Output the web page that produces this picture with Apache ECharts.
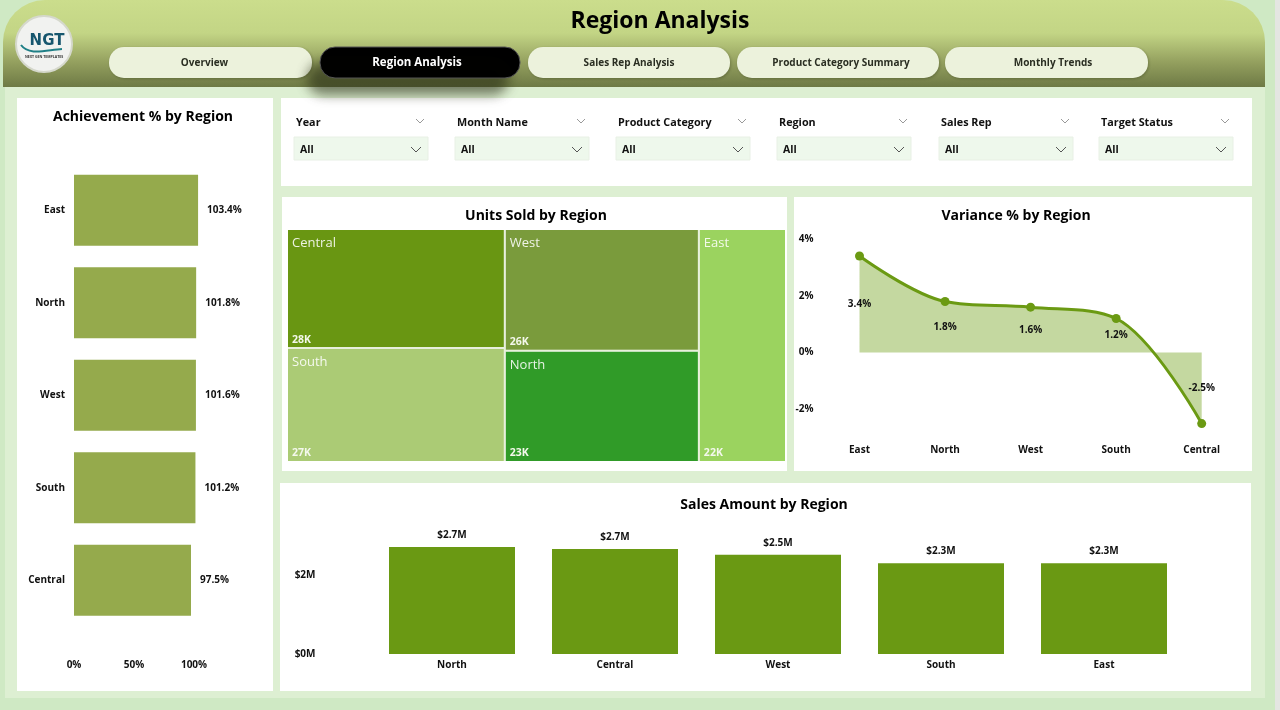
<!DOCTYPE html>
<html>
<head>
<meta charset="utf-8">
<title>Region Analysis</title>
<script src="https://cdn.jsdelivr.net/npm/echarts@6/dist/echarts.min.js"></script>
<style>
html, body { margin: 0; padding: 0; background: #fff; overflow: hidden; }
#main { width: 1280px; height: 710px; }
</style>
</head>
<body>
<div id="main"></div>
<script>
// data
var achieveRegions = ['East', 'North', 'West', 'South', 'Central'];
var achieveValues = [103.4, 101.8, 101.6, 101.2, 97.5];
var achieveTicks = [0, 50, 100];

var unitRegions = ['Central', 'South', 'West', 'North', 'East'];
var unitValues = [28100, 26900, 25600, 23400, 22000];
var unitColors = ['#699612', '#ABCB75', '#7A9B3C', '#309B28', '#9BD35F'];

var varianceRegions = ['East', 'North', 'West', 'South', 'Central'];
var varianceValues = [3.4, 1.8, 1.6, 1.2, -2.5];
var varianceTicks = [-2, 0, 2, 4];

var salesRegions = ['North', 'Central', 'West', 'South', 'East'];
var salesValues = [2.71, 2.66, 2.51, 2.3, 2.3];
var salesTicks = [0, 2];

var navItems = ['Overview', 'Region Analysis', 'Sales Rep Analysis', 'Product Category Summary', 'Monthly Trends'];
var slicerNames = ['Year', 'Month Name', 'Product Category', 'Region', 'Sales Rep', 'Target Status'];

var FONT = '"Open Sans", "Noto Sans", sans-serif';
var TEXT = '#111';

// layout of the report page
var navX = [[109, 312], [320, 520], [528, 730], [737, 939], [945, 1148]];
var navTextX = [204.5, 417, 629, 841, 1053];
var slicerX = [294, 455, 616, 777, 939, 1099];
var varianceStep = 28.4; // px per 1% on the variance axis

function panel(x, y, w, h) {
    return { type: 'rect', shape: { x: x, y: y, width: w, height: h }, style: { fill: '#fff' } };
}
function label(x, y, text, font, fill, align) {
    return {
        type: 'text', x: x, y: y, z: 3,
        style: { text: text, font: font, fill: fill || TEXT, align: align || 'left', verticalAlign: 'middle' }
    };
}
function chevron(cx, cy, size, color) {
    return {
        type: 'polyline', z: 3,
        shape: { points: [[cx - size, cy - size / 2], [cx, cy + size / 2], [cx + size, cy - size / 2]] },
        style: { stroke: color, lineWidth: 1, fill: null }
    };
}

var graphics = [
    // page background
    { type: 'rect', shape: { x: 0, y: 0, width: 1280, height: 710 }, style: { fill: '#CFE9C4' } },
    { type: 'rect', shape: { x: 5, y: 87, width: 1260, height: 611 }, style: { fill: '#DDEFD2' } },
    { type: 'rect', shape: { x: 1275, y: 0, width: 5, height: 710 }, style: { fill: '#E4E6E2' } },
    // header
    {
        type: 'rect', shape: { x: 3, y: 0, width: 1262, height: 87, r: [42, 42, 0, 0] },
        style: {
            fill: new echarts.graphic.LinearGradient(0, 0, 0, 1, [
                { offset: 0, color: '#CBDD8C' },
                { offset: 0.38, color: '#C3D585' },
                { offset: 0.72, color: '#939F5E' },
                { offset: 1, color: '#6E7A45' }
            ])
        }
    },
    label(660, 21, 'Region Analysis', 'bold 23px ' + FONT, '#000', 'center'),
    // logo
    { type: 'circle', z: 2, shape: { cx: 44, cy: 44, r: 28 }, style: { fill: '#F1F2F0', stroke: '#D5D8CC', lineWidth: 2 } },
    label(47, 41, 'NGT', 'bold 15px "DejaVu Sans", sans-serif', '#16566E', 'center'),
    {
        type: 'bezierCurve', z: 3,
        shape: { x1: 21, y1: 45, cpx1: 29, cpy1: 56, cpx2: 46, cpy2: 50, x2: 62, y2: 49 },
        style: { stroke: '#1F7F86', lineWidth: 2, fill: null }
    },
    label(44, 57, 'NEXT GEN TEMPLATES', 'bold 3.5px ' + FONT, '#333', 'center'),
    // panels
    panel(17, 98, 256, 593),
    panel(281, 98, 971, 88),
    panel(282, 197, 505, 274),
    panel(794, 197, 458, 274),
    panel(280, 483, 971, 208),
    // chart titles
    label(143, 117, 'Achievement % by Region', 'bold 14px ' + FONT, '#000', 'center'),
    label(536, 216, 'Units Sold by Region', 'bold 14px ' + FONT, '#000', 'center'),
    label(1016, 216, 'Variance % by Region', 'bold 14px ' + FONT, '#000', 'center'),
    label(764, 505, 'Sales Amount by Region', 'bold 14px ' + FONT, '#000', 'center')
];

// nav buttons
navItems.forEach(function (name, i) {
    var active = i === 1;
    graphics.push({
        type: 'rect', z: 2,
        shape: { x: navX[i][0], y: 47, width: navX[i][1] - navX[i][0], height: 31, r: 15 },
        style: active
            ? { fill: '#000', stroke: '#555', lineWidth: 1, shadowColor: 'rgba(40,45,20,0.6)', shadowBlur: 12, shadowOffsetX: -12, shadowOffsetY: 16 }
            : { fill: '#ECF2DC', shadowColor: 'rgba(40,45,20,0.3)', shadowBlur: 3, shadowOffsetX: 1, shadowOffsetY: 1 }
    });
    graphics.push(label(navTextX[i], 63, name, 'bold ' + (active ? 11.5 : 10) + 'px ' + FONT, active ? '#fff' : '#2A2E22', 'center'));
});

// slicers
slicerNames.forEach(function (name, i) {
    var x = slicerX[i];
    graphics.push(label(x + 2, 123, name, 'bold 10.8px ' + FONT, '#111'));
    graphics.push(chevron(x + 126, 121, 4, '#999'));
    graphics.push({
        type: 'rect', z: 2,
        shape: { x: x, y: 137, width: 134, height: 23 },
        style: { fill: '#EEF8EC', stroke: '#E8F0E5', lineWidth: 1 }
    });
    graphics.push(label(x + 6, 150, 'All', 'bold 10.5px ' + FONT, '#111'));
    graphics.push(chevron(x + 122, 149.5, 5, '#555'));
});

var treeData = unitRegions.map(function (name, i) {
    return { name: name, value: unitValues[i], itemStyle: { color: unitColors[i] } };
});
var treeBox = { left: 288, top: 230, width: 497, height: 231 };
function treeSeries(extra) {
    return Object.assign({
        type: 'treemap',
        left: treeBox.left, top: treeBox.top, width: treeBox.width, height: treeBox.height,
        roam: false, nodeClick: false,
        breadcrumb: { show: false },
        squareRatio: 1.2,
        silent: true
    }, extra);
}

var axisFont = { color: TEXT, fontSize: 10, fontWeight: 'bold' };

var option = {
    animation: false,
    textStyle: { fontFamily: FONT },
    graphic: { elements: graphics },
    grid: [
        { left: 74, top: 164, width: 132, height: 462.5 },
        { left: 859.5, top: 239, width: 342.2, height: 198.8 },
        { left: 370.5, top: 535.5, width: 815, height: 118.5 }
    ],
    xAxis: [
        {
            gridIndex: 0, type: 'value', min: 0, max: 110, interval: 50,
            axisLine: { show: false }, axisTick: { show: false }, splitLine: { show: false },
            axisLabel: Object.assign({
                margin: 34,
                formatter: function (v) { return achieveTicks.indexOf(v) >= 0 ? v + '%' : ''; }
            }, axisFont)
        },
        {
            gridIndex: 1, type: 'category', data: varianceRegions, boundaryGap: false,
            axisLine: { show: false, onZero: false }, axisTick: { show: false },
            axisLabel: Object.assign({ margin: 7, hideOverlap: false, interval: 0 }, axisFont)
        },
        {
            gridIndex: 2, type: 'category', data: salesRegions,
            axisLine: { show: false }, axisTick: { show: false },
            axisLabel: Object.assign({ margin: 6 }, axisFont)
        }
    ],
    yAxis: [
        {
            gridIndex: 0, type: 'category', data: achieveRegions, inverse: true,
            axisLine: { show: false }, axisTick: { show: false },
            axisLabel: Object.assign({ margin: 9 }, axisFont)
        },
        {
            gridIndex: 1, type: 'value', min: -3, max: 4,
            axisLine: { show: false }, axisTick: { show: false }, splitLine: { show: false },
            axisLabel: Object.assign({
                customValues: varianceTicks, margin: 46,
                formatter: '{value}%'
            }, axisFont)
        },
        {
            gridIndex: 2, type: 'value', min: 0, max: 3,
            axisLine: { show: false }, axisTick: { show: false }, splitLine: { show: false },
            axisLabel: Object.assign({
                customValues: salesTicks, margin: 55,
                formatter: '${value}M'
            }, axisFont)
        }
    ],
    series: [
        {
            type: 'bar', xAxisIndex: 0, yAxisIndex: 0, data: achieveValues, barWidth: 71,
            itemStyle: { color: '#95AA4C' },
            label: Object.assign({
                show: true, position: 'right', distance: 9,
                formatter: function (p) { return p.value.toFixed(1) + '%'; }
            }, axisFont)
        },
        treeSeries({
            data: treeData,
            label: { show: true, position: 'insideTopLeft', distance: 4, color: 'rgba(255,255,255,0.88)', fontSize: 13, formatter: '{b}', padding: [3, 0, 0, 0] },
            levels: [{ itemStyle: { gapWidth: 2, borderWidth: 0, borderColor: '#E8F0DC' } }]
        }),
        // same layout again, only for the value at the bottom of each cell
        treeSeries({
            data: unitRegions.map(function (name, i) {
                return { name: name, value: unitValues[i], itemStyle: { color: 'rgba(0,0,0,0)' } };
            }),
            label: {
                show: true, position: 'insideBottomLeft', distance: 0, padding: [0, 0, 2, 4], color: '#F4F8EC', fontSize: 10.5, fontWeight: 'bold',
                formatter: function (p) { return Math.round(p.value / 1000) + 'K'; }
            },
            levels: [{ itemStyle: { gapWidth: 2, borderWidth: 0, borderColor: 'rgba(0,0,0,0)' } }]
        }),
        {
            type: 'line', xAxisIndex: 1, yAxisIndex: 1, data: varianceValues.map(function (v) {
                return {
                    value: v,
                    // label sits half way between the point and the zero line
                    label: { offset: [0, v * varianceStep / 2] }
                };
            }),
            smooth: 0.35, symbol: 'circle', symbolSize: 9,
            lineStyle: { color: '#6B9A13', width: 3 },
            itemStyle: { color: '#6B9A13' },
            areaStyle: { color: '#C4D8A0', opacity: 1 },
            label: Object.assign({
                show: true, position: 'inside',
                formatter: function (p) { return p.value.toFixed(1) + '%'; }
            }, axisFont)
        },
        {
            type: 'bar', xAxisIndex: 2, yAxisIndex: 2, data: salesValues, barWidth: 126,
            itemStyle: { color: '#6A9913' },
            label: Object.assign({
                show: true, position: 'top', distance: 7,
                formatter: function (p) { return '$' + p.value.toFixed(1) + 'M'; }
            }, axisFont)
        }
    ]
};

var myChart = echarts.init(document.getElementById('main'));
myChart.setOption(option);
</script>
</body>
</html>
